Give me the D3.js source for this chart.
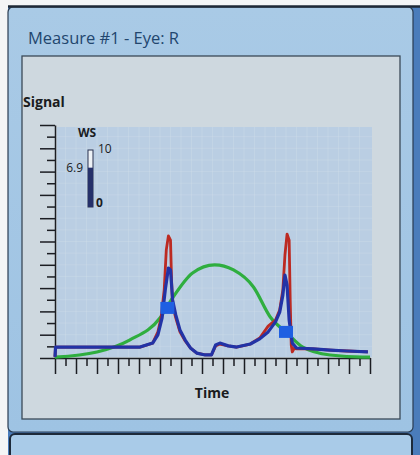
<!DOCTYPE html>
<meta charset="utf-8">
<style>
body { margin: 0; background: #fff; }
svg { display: block; font-family: "Open Sans", "Noto Sans", sans-serif; }
.axis path, .axis line { stroke: #1b1d22; stroke-width: 1.5; }
.axis text { display: none; }
.title { fill: #22466e; font-size: 16.5px; }
.label { fill: #1a1c20; font-size: 14px; font-weight: bold; }
.gauge { fill: #1a1c22; font-size: 12px; }
</style>
<svg width="420" height="455"></svg>
<script src="https://d3js.org/d3.v7.min.js"></script>
<script>

// signal traces, t = time ticks (0-30), v = signal (0-10)
var redT   = [0, 0.05, 4.3, 8.1, 9.3, 9.8, 10.1, 10.4, 10.6, 10.8, 11.0, 11.1, 11.2, 11.5, 11.9, 12.4, 12.9, 13.5, 14.3, 14.9, 15.3, 15.7, 16.5, 17.3, 18.6, 19.5, 20.3, 21.0, 21.4, 21.7, 21.9, 22.1, 22.3, 22.4, 22.5, 22.6, 22.8, 23.0, 24.6, 26.2, 27.8, 29.8],
    redV   = [0.05, 0.47, 0.47, 0.47, 0.64, 1.12, 1.72, 2.92, 4.64, 5.24, 5.06, 3.35, 2.27, 1.72, 1.12, 0.73, 0.43, 0.21, 0.13, 0.13, 0.52, 0.6, 0.52, 0.47, 0.6, 0.86, 1.37, 1.63, 2.06, 2.92, 4.42, 5.32, 5.06, 2.49, 0.56, 0.26, 0.43, 0.39, 0.39, 0.34, 0.3, 0.26],
    blueT  = [0, 0.05, 4.3, 8.1, 9.3, 9.8, 10.2, 10.5, 10.8, 11.0, 11.2, 11.5, 11.9, 12.4, 12.9, 13.5, 14.3, 14.9, 15.3, 15.7, 16.5, 17.3, 18.6, 19.5, 20.3, 21.0, 21.4, 21.7, 21.9, 22.1, 22.3, 22.6, 23.0, 24.6, 26.2, 27.8, 29.8],
    blueV  = [0.05, 0.47, 0.47, 0.47, 0.64, 0.99, 1.72, 2.92, 3.86, 3.78, 2.49, 1.85, 1.2, 0.77, 0.43, 0.21, 0.13, 0.13, 0.56, 0.64, 0.52, 0.47, 0.6, 0.82, 1.12, 1.55, 1.97, 2.7, 3.56, 3.13, 1.63, 0.64, 0.43, 0.39, 0.34, 0.3, 0.26],
    greenT = [0, 4.0, 7.1, 10.0, 11.2, 13.1, 15.2, 17.0, 18.9, 20.5, 22.1, 23.6, 26.2, 29.3, 30],
    greenV = [0.04, 0.26, 0.77, 1.72, 2.58, 3.65, 4.0, 3.78, 3.05, 1.76, 1.07, 0.47, 0.13, 0.04, 0.04],
    markerT = [10.7, 22.0],
    markerV = [2.15, 1.12];

var wsValue = 6.9,
    wsRange = [0, 10];

var svg = d3.select("svg");

// window chrome
var frameGrad = svg.append("defs").append("linearGradient")
  .attr("id", "frame").attr("x1", 0).attr("y1", 0).attr("x2", 0).attr("y2", 1);
frameGrad.append("stop").attr("offset", 0).attr("stop-color", "#a9cae6");
frameGrad.append("stop").attr("offset", 1).attr("stop-color", "#9ec3e3");

svg.append("rect").attr("x", 0).attr("y", 0).attr("width", 420).attr("height", 455).attr("fill", "#f4f5f6");
svg.append("rect").attr("x", 8).attr("y", 6).attr("width", 412).attr("height", 449).attr("fill", "#4a7cbb");
svg.append("rect").attr("x", 8).attr("y", 7).attr("width", 405).attr("height", 425)
  .attr("rx", 5).attr("fill", "url(#frame)").attr("stroke", "#2b3d52").attr("stroke-width", 1.2);
svg.append("line").attr("x1", 8).attr("x2", 420).attr("y1", 6.5).attr("y2", 6.5)
  .attr("stroke", "#1e2836").attr("stroke-width", 2.5);
svg.append("rect").attr("x", 10).attr("y", 434).attr("width", 402).attr("height", 30)
  .attr("rx", 5).attr("fill", "#a9cbe8").attr("stroke", "#1d2a3a").attr("stroke-width", 2);

svg.append("text").attr("class", "title").attr("x", 28).attr("y", 44).text("Measure #1 - Eye: R");

// inner panel
svg.append("rect").attr("x", 22).attr("y", 56).attr("width", 378).attr("height", 363)
  .attr("fill", "#ced8df").attr("stroke", "#3b4a58").attr("stroke-width", 1.3);

var x = d3.scaleLinear().domain([0, 30]).range([55, 370]),
    y = d3.scaleLinear().domain([0, 10]).range([358, 125]);

// plot background with faint grid
svg.append("rect").attr("x", 57).attr("y", 127).attr("width", 315).attr("height", 230).attr("fill", "#bacee3");
svg.append("g").selectAll("line").data(d3.range(1, 30)).join("line")
  .attr("x1", d => x(d)).attr("x2", d => x(d)).attr("y1", 127).attr("y2", 357)
  .attr("stroke", "#d3e0ec").attr("stroke-opacity", 0.3);
svg.append("g").selectAll("line").data(d3.range(0.5, 10, 0.5)).join("line")
  .attr("x1", 57).attr("x2", 372).attr("y1", d => y(d)).attr("y2", d => y(d))
  .attr("stroke", "#d3e0ec").attr("stroke-opacity", 0.3);

// axes: long ticks on whole steps, short ticks in between
var yAxis = svg.append("g").attr("class", "axis").attr("transform", "translate(55,0)")
  .call(d3.axisLeft(y).tickValues(d3.range(0, 10.01, 0.5)).tickSizeOuter(0).tickFormat(""));
yAxis.selectAll(".tick line").attr("x2", d => Number.isInteger(d) ? -15 : -8);

var xAxis = svg.append("g").attr("class", "axis").attr("transform", "translate(0,358)")
  .call(d3.axisBottom(x).tickValues(d3.range(0, 31)).tickSizeOuter(0).tickFormat(""));
xAxis.selectAll(".tick line").attr("y2", d => d % 2 === 0 ? 16 : 8);

svg.append("text").attr("class", "label").attr("x", 23).attr("y", 107).text("Signal");
svg.append("text").attr("class", "label").attr("x", 212).attr("y", 398)
  .attr("text-anchor", "middle").text("Time");

// WS gauge
var ws = d3.scaleLinear().domain(wsRange).range([207, 150]);
svg.append("text").attr("class", "gauge").attr("x", 78).attr("y", 137)
  .style("font-weight", "bold").text("WS");
svg.append("text").attr("class", "gauge").attr("x", 98).attr("y", 153).text(wsRange[1]);
svg.append("text").attr("class", "gauge").attr("x", 96).attr("y", 207).style("font-weight", "bold").text(wsRange[0]);
svg.append("text").attr("class", "gauge").attr("x", 83).attr("y", 172)
  .attr("text-anchor", "end").text(wsValue);
svg.append("rect").attr("x", 88).attr("y", ws(wsRange[1])).attr("width", 5)
  .attr("height", ws(wsRange[0]) - ws(wsRange[1]))
  .attr("fill", "#eef2f6").attr("stroke", "#2a3350").attr("stroke-width", 1);
svg.append("rect").attr("x", 88).attr("y", ws(wsValue)).attr("width", 5)
  .attr("height", ws(0) - ws(wsValue)).attr("fill", "#25306a");

// traces
function series(ts, vs) { return ts.map((t, i) => [t, vs[i]]); }
var line = d3.line().x(d => x(d[0])).y(d => y(d[1]));
var smooth = d3.line().x(d => x(d[0])).y(d => y(d[1])).curve(d3.curveMonotoneX);

svg.append("path").datum(series(greenT, greenV)).attr("d", smooth)
  .attr("fill", "none").attr("stroke", "#2fae3f").attr("stroke-width", 3.2);
svg.append("path").datum(series(redT, redV)).attr("d", line)
  .attr("fill", "none").attr("stroke", "#bc2a22").attr("stroke-width", 2.8).attr("stroke-linejoin", "round");
svg.append("path").datum(series(blueT, blueV)).attr("d", line)
  .attr("fill", "none").attr("stroke", "#2233a6").attr("stroke-width", 3.2).attr("stroke-linejoin", "round");

svg.append("g").selectAll("rect").data(series(markerT, markerV)).join("rect")
  .attr("x", d => x(d[0]) - 7).attr("y", d => y(d[1]) - 6)
  .attr("width", 14).attr("height", 12).attr("fill", "#1e5fe2");
</script>
